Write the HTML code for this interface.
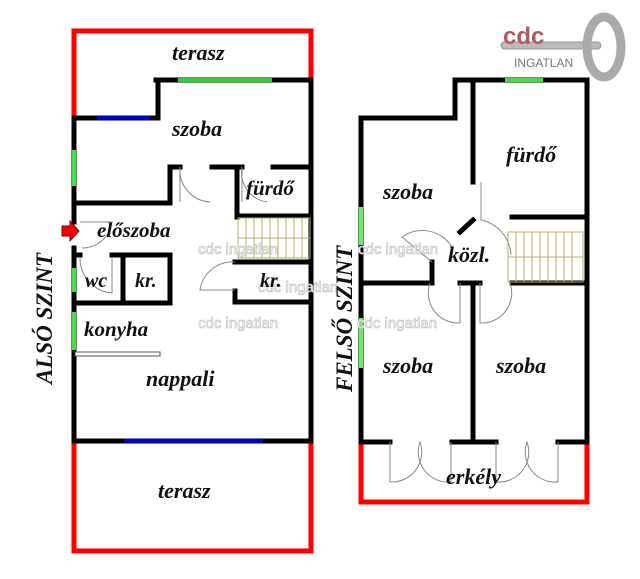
<!DOCTYPE html>
<html><head><meta charset="utf-8"><style>
html,body{margin:0;padding:0;background:#fff;}
svg{display:block}
.l{font-family:"Liberation Serif",serif;font-style:italic;font-weight:bold;font-size:22px;fill:#111;}
.wm{font-family:"Liberation Sans",sans-serif;font-size:15px;fill:#fff;stroke:#c8c8c8;stroke-width:0.8;}
</style></head><body>
<svg width="640" height="579" viewBox="0 0 640 579" xmlns="http://www.w3.org/2000/svg">
<rect width="640" height="579" fill="#fff"/>
<!-- LEFT PLAN red -->
<g stroke="#f00" stroke-width="5" fill="none">
<polyline points="74,118 74,31 311,31 311,80"/>
<polyline points="74,441 74,551 311,551 311,441"/>
<polyline points="361,442 361,502 587,502 587,442"/>
</g>
<g stroke="#000" stroke-width="5" fill="none" stroke-linecap="square">
<!-- left plan -->
<line x1="156" y1="80" x2="311" y2="80"/>
<line x1="158" y1="80" x2="158" y2="118"/>
<line x1="74" y1="118" x2="158" y2="118"/>
<line x1="311" y1="80" x2="311" y2="441"/>
<line x1="74" y1="118" x2="74" y2="222"/>
<line x1="74" y1="248" x2="74" y2="441"/>
<line x1="74" y1="441" x2="311" y2="441"/>
<line x1="74" y1="203" x2="170" y2="203"/>
<line x1="170" y1="167" x2="170" y2="203"/>
<line x1="170" y1="167" x2="180" y2="167"/>
<line x1="212" y1="167" x2="242" y2="167"/>
<line x1="273" y1="167" x2="311" y2="167"/>
<line x1="237" y1="167" x2="237" y2="217"/>
<line x1="237" y1="216" x2="311" y2="216"/>
<line x1="74" y1="255" x2="80" y2="255"/>
<line x1="112" y1="255" x2="170" y2="255"/>
<line x1="123" y1="255" x2="123" y2="303"/>
<line x1="170" y1="255" x2="170" y2="303"/>
<line x1="74" y1="303" x2="170" y2="303"/>
<line x1="235" y1="262" x2="311" y2="262"/>
<line x1="235" y1="291" x2="235" y2="302"/>
<line x1="235" y1="302" x2="311" y2="302"/>
<line x1="74" y1="441" x2="124" y2="441"/>
<!-- right plan -->
<line x1="455" y1="80" x2="587" y2="80"/>
<line x1="455" y1="80" x2="455" y2="118"/>
<line x1="361" y1="118" x2="455" y2="118"/>
<line x1="361" y1="118" x2="361" y2="442"/>
<line x1="587" y1="80" x2="587" y2="442"/>
<line x1="473" y1="80" x2="473" y2="182"/>
<line x1="512" y1="217" x2="587" y2="217"/>
<line x1="473" y1="220" x2="460" y2="232"/>
<line x1="432" y1="262" x2="432" y2="283"/>
<line x1="361" y1="283" x2="432" y2="283"/>
<line x1="460" y1="283" x2="480" y2="283"/>
<line x1="512" y1="283" x2="587" y2="283"/>
<line x1="473" y1="283" x2="473" y2="442"/>
<line x1="361" y1="442" x2="390" y2="442"/>
<line x1="452" y1="442" x2="496" y2="442"/>
<line x1="558" y1="442" x2="587" y2="442"/>
</g>
<!-- windows -->
<g stroke-width="4">
<line x1="178" y1="80" x2="272" y2="80" stroke="#3c3"/>
<line x1="97" y1="118" x2="150" y2="118" stroke="#00c"/>
<line x1="124" y1="441" x2="263" y2="441" stroke="#00c"/>
<line x1="74" y1="150" x2="74" y2="186" stroke="#4d4"/>
<line x1="74" y1="268" x2="74" y2="292" stroke="#4d4"/>
<line x1="74" y1="312" x2="74" y2="350" stroke="#4d4"/>
<line x1="505" y1="80" x2="543" y2="80" stroke="#4d4"/>
<line x1="361" y1="207" x2="361" y2="245" stroke="#6e6"/>
<line x1="361" y1="318" x2="361" y2="368" stroke="#6e6"/>
</g>
<!-- counter -->
<rect x="75" y="352" width="85" height="4" fill="#fff" stroke="#555" stroke-width="1"/>
<!-- stairs -->
<g stroke="#b8b060" stroke-width="1" fill="none">
<rect x="238" y="218" width="72" height="40"/>
<path d="M246,218v40M254,218v40M262,218v40M270,218v40M278,218v40M286,218v40M294,218v40M302,218v40M238,238h72"/>
<rect x="508" y="232" width="75" height="50"/>
<path d="M516,232v50M524,232v50M532,232v50M540,232v50M548,232v50M556,232v50M564,232v50M572,232v50M508,257h75"/>
</g>
<!-- doors -->
<g stroke="#888" stroke-width="1" fill="none">
<path d="M180,167 v35 M180,167 a32,32 0 0 0 30,35"/>
<path d="M242,167 v35 M242,167 a30,30 0 0 0 25,35"/>
<path d="M80,222 h32 a30,30 0 0 1 -30,26"/>
<path d="M112,258 v35 a35,35 0 0 1 -32,-35"/>
<path d="M235,290 h-35 a33,33 0 0 1 35,-28"/>
<path d="M481,182 v38 a38,38 0 0 1 30,35"/>
<path d="M432,262 l-30,-25 a35,35 0 0 1 50,10"/>
<path d="M430,283 a30,30 0 0 0 30,40 M460,283 v40"/>
<path d="M480,283 v40 a30,30 0 0 0 30,-40"/>
<path d="M390,442 v40 a30,30 0 0 0 30,-40 a30,30 0 0 0 31,40 v-40"/>
<path d="M496,442 v40 a30,30 0 0 0 31,-40 a30,30 0 0 0 31,40 v-40"/>
</g>
<!-- entrance arrow -->
<path d="M62,226 h8 v-5 l9,10 l-9,10 v-5 h-8 z" fill="#e00" stroke="#800" stroke-width="1"/>
<!-- watermarks -->
<text class="wm" x="198" y="254">cdc ingatlan</text>
<text class="wm" x="358" y="254">cdc ingatlan</text>
<text class="wm" x="258" y="292">cdc ingatlan</text>
<text class="wm" x="198" y="328">cdc ingatlan</text>
<text class="wm" x="357" y="328">cdc ingatlan</text>
<!-- labels -->
<text class="l" x="172" y="60">terasz</text>
<text class="l" x="172" y="136">szoba</text>
<text class="l" x="246" y="195" style="font-size:21px">fürdő</text>
<text class="l" x="97" y="237" style="font-size:21px">előszoba</text>
<text class="l" x="85" y="287" style="font-size:20px">wc</text>
<text class="l" x="135" y="287" style="font-size:20px">kr.</text>
<text class="l" x="260" y="287" style="font-size:20px">kr.</text>
<text class="l" x="84" y="336" style="font-size:21px">konyha</text>
<text class="l" x="146" y="386">nappali</text>
<text class="l" x="158" y="498">terasz</text>
<text class="l" x="383" y="199">szoba</text>
<text class="l" x="506" y="162">fürdő</text>
<text class="l" x="448" y="262">közl.</text>
<text class="l" x="383" y="373">szoba</text>
<text class="l" x="496" y="373">szoba</text>
<text class="l" x="446" y="484">erkély</text>
<text class="l" transform="translate(52,384) rotate(-90)" style="font-size:23px">ALSÓ SZINT</text>
<text class="l" transform="translate(352,392) rotate(-90)" style="font-size:23px">FELSŐ SZINT</text>
<!-- logo -->
<rect x="501" y="42" width="100" height="7" rx="3.5" fill="#bbb" stroke="#999"/>
<text x="503" y="44" style="font-family:'Liberation Sans',sans-serif;font-weight:bold;font-size:24px;fill:#b25a5a">cdc</text>
<text x="514" y="67" style="font-family:'Liberation Sans',sans-serif;font-size:12px;fill:#777">INGATLAN</text>
<ellipse cx="604" cy="47" rx="17" ry="30" fill="none" stroke="#aaa" stroke-width="9"/>
</svg>
</body></html>
